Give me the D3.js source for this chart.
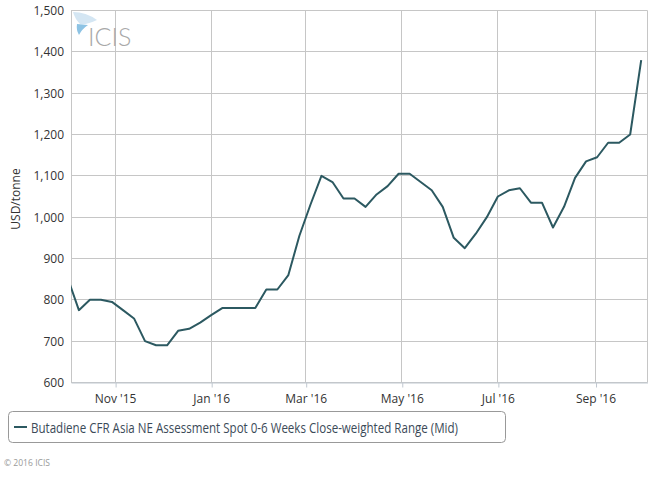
<!DOCTYPE html>
<html>
<head>
<meta charset="utf-8">
<script src="https://cdn.jsdelivr.net/npm/d3@7"></script>
<style>
  html, body { margin: 0; padding: 0; background: #fff; }
  svg { display: block; font-family: "Open Sans", "DejaVu Sans", sans-serif; }
</style>
</head>
<body>
<svg id="chart" width="668" height="478"></svg>
<script>
// ---- Data (weekly, Fridays) ----
const dates = [
  "2015-10-02","2015-10-09","2015-10-16","2015-10-23","2015-10-30",
  "2015-11-06","2015-11-13","2015-11-20","2015-11-27","2015-12-04",
  "2015-12-11","2015-12-18","2015-12-25","2016-01-01","2016-01-08",
  "2016-01-15","2016-01-22","2016-01-29","2016-02-05","2016-02-12",
  "2016-02-19","2016-02-26","2016-03-04","2016-03-11","2016-03-18",
  "2016-03-25","2016-04-01","2016-04-08","2016-04-15","2016-04-22",
  "2016-04-29","2016-05-06","2016-05-13","2016-05-20","2016-05-27",
  "2016-06-03","2016-06-10","2016-06-17","2016-06-24","2016-07-01",
  "2016-07-08","2016-07-15","2016-07-22","2016-07-29","2016-08-05",
  "2016-08-12","2016-08-19","2016-08-26","2016-09-02","2016-09-09",
  "2016-09-16","2016-09-23","2016-09-30"
];
const values = [
  852, 775, 800, 800, 795,
  775, 755, 700, 690, 690,
  725, 730, 745, 763, 780,
  780, 780, 780, 825, 825,
  860, 955, 1030, 1100, 1085,
  1045, 1045, 1025, 1055, 1075,
  1105, 1105, 1085, 1065, 1025,
  950, 925, 960, 1000, 1050,
  1065, 1070, 1035, 1035, 975,
  1025, 1095, 1135, 1145, 1180,
  1180, 1200, 1380
];
const seriesName = "Butadiene CFR Asia NE Assessment Spot 0-6 Weeks Close-weighted Range (Mid)";
const yTicks = [600, 700, 800, 900, 1000, 1100, 1200, 1300, 1400, 1500];
const xDomain = ["2015-10-04", "2016-10-04"];
const yTitle = "USD/tonne";
const credit = "© 2016 ICIS";

// ---- Setup ----
const parse = d3.utcParse("%Y-%m-%d");
const data = dates.map((d, i) => ({ date: parse(d), value: values[i] }));

const plot = { left: 71, right: 647.5, top: 10.5, bottom: 382.5 };
const svg = d3.select("#chart");

const x = d3.scaleUtc().domain(xDomain.map(parse)).range([plot.left, plot.right]);
const y = d3.scaleLinear().domain([600, 1500]).range([plot.bottom, plot.top]);

const gridColor = "#c6c6c6";
const lineColor = "#2c5961";
const crisp = v => Math.round(v - 0.5) + 0.5;

// horizontal grid
svg.append("g").selectAll("line").data(yTicks).join("line")
  .attr("x1", plot.left).attr("x2", plot.right)
  .attr("y1", d => crisp(y(d))).attr("y2", d => crisp(y(d)))
  .attr("stroke", gridColor).attr("stroke-width", 1);

// vertical grid at x ticks
const xTicks = x.ticks(d3.utcMonth.every(2));
svg.append("g").selectAll("line").data(xTicks).join("line")
  .attr("x1", d => crisp(x(d))).attr("x2", d => crisp(x(d)))
  .attr("y1", plot.top).attr("y2", plot.bottom)
  .attr("stroke", gridColor).attr("stroke-width", 1);

// plot borders (left/right)
svg.append("line").attr("x1", crisp(plot.left)).attr("x2", crisp(plot.left))
  .attr("y1", plot.top).attr("y2", plot.bottom).attr("stroke", gridColor);
svg.append("line").attr("x1", crisp(plot.right)).attr("x2", crisp(plot.right))
  .attr("y1", plot.top).attr("y2", plot.bottom).attr("stroke", gridColor);

// x axis
const xAxis = d3.axisBottom(x).tickValues(xTicks)
  .tickFormat(d3.utcFormat("%b '%y")).tickSize(5).tickSizeOuter(0);
const gx = svg.append("g").attr("transform", `translate(0,${plot.bottom})`).call(xAxis);
gx.select(".domain").attr("stroke", "#c0c8d0");
gx.selectAll(".tick line").attr("stroke", "#c0c8d0").attr("transform", "translate(0.5,0)");
gx.selectAll(".tick text").attr("font-size", 12).attr("fill", "#333")
  .attr("font-family", "'Open Sans', sans-serif").attr("dy", "1em");

// y axis labels
const yAxis = d3.axisLeft(y).tickValues(yTicks).tickFormat(d3.format(",")).tickSize(0).tickPadding(7);
const gy = svg.append("g").attr("transform", `translate(${plot.left},0)`).call(yAxis);
gy.select(".domain").remove();
gy.selectAll(".tick text").attr("font-size", 12).attr("fill", "#333")
  .attr("font-family", "'Open Sans', sans-serif");

// y title
svg.append("text").attr("transform", "translate(20,199) rotate(-90)")
  .attr("text-anchor", "middle").attr("font-size", 12).attr("fill", "#333")
  .text(yTitle);

// ICIS watermark logo
const logo = svg.append("g");
logo.append("path").attr("d", "M73,12 Q86,12 97,20 Q87,25 80,24 Q75,19 73,12 Z").attr("fill", "#d4e6f3");
logo.append("path").attr("d", "M77,24 L88,25 Q82,29 79,35 Q76,30 77,24 Z").attr("fill", "#8dc3e4");
logo.append("text").attr("x", 88).attr("y", 46).attr("font-size", 25)
  .attr("font-family", "Lato, 'Open Sans', sans-serif").attr("font-weight", 300)
  .attr("fill", "#a8a8a8").text("ICIS");

// clip and line
svg.append("clipPath").attr("id", "clip").append("rect")
  .attr("x", plot.left).attr("y", plot.top - 5)
  .attr("width", plot.right - plot.left).attr("height", plot.bottom - plot.top + 10);

const line = d3.line().x(d => x(d.date)).y(d => y(d.value));
svg.append("path").datum(data).attr("clip-path", "url(#clip)")
  .attr("d", line).attr("fill", "none").attr("stroke", lineColor)
  .attr("stroke-width", 2).attr("stroke-linejoin", "round");

// legend
const lg = svg.append("g");
lg.append("rect").attr("x", 8.5).attr("y", 411.5).attr("width", 497).attr("height", 31)
  .attr("rx", 4).attr("fill", "#fff").attr("stroke", "#999");
lg.append("line").attr("x1", 14).attr("x2", 27).attr("y1", 427).attr("y2", 427)
  .attr("stroke", lineColor).attr("stroke-width", 2);
lg.append("text").attr("x", 31).attr("y", 432.5).attr("font-size", 15)
  .attr("fill", "#3b4a58").attr("textLength", 427).attr("lengthAdjust", "spacingAndGlyphs")
  .text(seriesName);

// credit
svg.append("text").attr("x", 4).attr("y", 466).attr("font-size", 9)
  .attr("fill", "#999").attr("textLength", 46).attr("lengthAdjust", "spacingAndGlyphs")
  .text(credit);
</script>
</body>
</html>
